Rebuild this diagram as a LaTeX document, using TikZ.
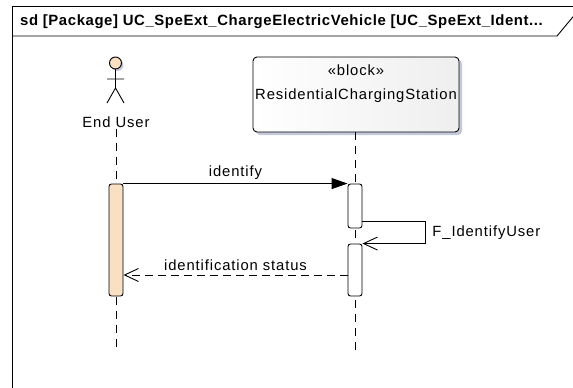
\documentclass[tikz,border=0pt]{standalone}
\usepackage{fontspec}
\setmainfont{Liberation Sans}
\newfontfamily\lblfont[LetterSpace=6]{Liberation Sans}
\newfontfamily\titlefont[LetterSpace=4]{Liberation Sans}
\usetikzlibrary{arrows.meta,shadows,positioning}

\definecolor{userbeige}{HTML}{F9E0C2}
\definecolor{shadowblue}{HTML}{C3C9DA}

\tikzset{
  life/.style={draw, dash pattern=on 8pt off 6pt, line width=0.9pt},
  actbar/.style={draw, rounded corners=2.5pt, minimum width=14pt, inner sep=0pt, line width=0.9pt, fill=white},
  msg/.style={line width=0.9pt},
  lbl/.style={font=\lblfont\fontsize{14.8}{17}\selectfont, inner sep=1pt},
  blockbox/.style={draw, rounded corners=4pt, line width=0.9pt, minimum width=206pt, minimum height=75pt,
    left color=white, right color=gray!13,
    drop shadow={shadow xshift=3pt, shadow yshift=-3pt, fill=shadowblue, opacity=1}},
}

\begin{document}
\begin{tikzpicture}[x=1pt,y=-1pt]
  \useasboundingbox (0,0) rectangle (573,388);
  % frame
  \begin{scope}
    \clip (0,0) rectangle (573,388);
    \draw[line width=0.9pt] (12,400) -- (12,6) -- (600,6);
    \draw[line width=0.9pt] (12,36) -- (557,36) -- (582,6);
  \end{scope}
  \node[anchor=west, inner sep=0pt, font=\titlefont\bfseries\fontsize{14.9}{17}\selectfont] (title) at (20,22)
    {sd [Package] UC\_SpeExt\_ChargeElectricVehicle [UC\_SpeExt\_Ident...};

  % actor
  \fill[shadowblue] (117.5,65) circle (6);
  \draw[line width=0.9pt, fill=userbeige] (115.5,63) circle (6);
  \draw[line width=0.9pt] (115.5,69) -- (115.5,88) (107,79) -- (124,79) (107,103) -- (115.5,88) -- (124,103);
  \node[lbl] (user) at (116,122) {End User};

  % block
  \node[blockbox] (station) at (356,94.5) {};
  \node[lbl, below=7pt of station.north] (stereo) {«block»};
  \node[lbl, below=31pt of station.north] (stname) {ResidentialChargingStation};

  % lifelines
  \coordinate (userend) at (116,352);
  \coordinate (stationend) at (355,352);
  \draw[life] (user.south) -- (userend);
  \draw[life] (station.south -| stationend) -- (stationend);

  % activations
  \node[actbar, fill=userbeige, minimum height=112pt] (act1) at (116,240) {};
  \node[actbar, minimum height=44pt] (actA) at (355,206) {};
  \node[actbar, minimum height=52pt] (actB) at (355,270) {};

  % messages
  \draw[msg, -{Triangle[length=16pt,width=11pt]}] (act1.north east) -- (actA.north west)
    node[lbl, midway, above=3pt] {identify};
  \coordinate (selfout) at (425,221);
  \draw[msg, -{Straight Barb[length=14pt,width=13pt]}] (actA.east |- selfout) -- (selfout)
    -- (selfout |- actB.north) node[lbl, midway, right=6pt] {F\_IdentifyUser} -- (actB.north east);
  \coordinate (ret) at (0,275);
  \draw[msg, dash pattern=on 8pt off 5pt, -{Straight Barb[length=14pt,width=13pt]}] (actB.west |- ret) -- (act1.east |- ret)
    node[lbl, midway, above=3pt] {identification status};
\end{tikzpicture}
\end{document}
